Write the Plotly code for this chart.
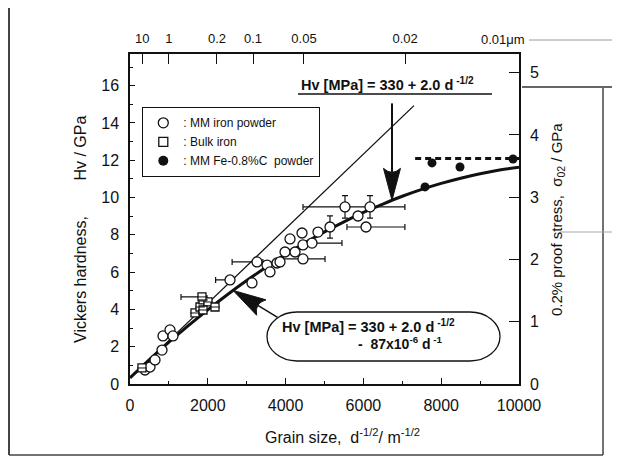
import numpy as np
import plotly.graph_objects as go

# ---------------- data ----------------
# MM iron powder (open circles), x = d^-1/2 [m^-1/2], Hv [GPa]
MM_X = [386, 514, 643, 823, 848, 1028, 1105, 2571, 3136, 3265, 3522, 3779, 3599,
        3856, 3985, 4113, 4242, 4422, 4447, 4447, 4679, 4833, 5141, 5527, 5861,
        6067, 6170]
MM_HV = [0.75, 0.91, 1.29, 1.82, 2.58, 2.90, 2.58, 5.58, 5.42, 6.55, 6.38, 6.49,
         6.01, 6.55, 7.08, 7.78, 7.08, 8.10, 7.46, 6.71, 7.56, 8.15, 8.42, 9.50,
         9.01, 8.42, 9.50]
MM_XERR_PLUS = [0, 0, 0, 0, 0, 0, 0, 100, 0, 150, 0, 0, 0, 0, 0, 0, 0, 0, 0,
                566, 770, 0, 0, 1540, 0, 1000, 0]
MM_XERR_MINUS = [0, 0, 0, 0, 0, 0, 0, 370, 0, 640, 0, 0, 0, 0, 0, 0, 0, 0, 0,
                 590, 300, 0, 0, 1080, 0, 490, 0]
MM_YERR = [0, 0, 0, 0, 0, 0, 0, 0, 0, 0, 0, 0, 0, 0, 0, 0, 0, 0, 0, 0, 0, 0,
           0.6, 0.6, 0, 0, 0.6]

# Bulk iron (squares)
BULK_X = [308, 1671, 1799, 1877, 2005, 2185, 1851, 1877]
BULK_HV = [0.86, 3.81, 4.13, 4.51, 4.40, 4.13, 4.67, 3.97]
BULK_XERR_MINUS = [0, 0, 0, 0, 0, 0, 540, 0]

# MM Fe-0.8%C powder (filled circles)
FEC_X = [7584, 7763, 8483, 9846]
FEC_HV = [10.57, 11.86, 11.64, 12.07]

# Hall-Petch line  Hv[MPa] = 330 + 2.0 d^-1/2
LINE_X = [0, 7300]
LINE_HV = [0.33, 14.93]

# fitted curve  Hv[MPa] = 330 + 2.0 d^-1/2 - 87e-6 d^-1
CURVE_X = [0, 500, 1000, 1500, 2000, 2500, 3000, 3500, 4000, 4500, 5000, 5500,
           6000, 6500, 7000, 7500, 8000, 8500, 9000, 9500, 10000]
CURVE_HV = [0.33, 1.31, 2.24, 3.13, 3.98, 4.79, 5.55, 6.26, 6.94, 7.57, 8.16,
            8.70, 9.20, 9.65, 10.07, 10.44, 10.76, 11.04, 11.28, 11.48, 11.63]

# dashed saturation level
DASH_X = [7330, 10000]
DASH_HV = [12.1, 12.1]

# top axis: grain size d in micrometres
TOP_D_UM = [10, 1, 0.2, 0.1, 0.05, 0.02, 0.01]
TOP_LABELS = ["10", "1", "0.2", "0.1", "0.05", "0.02", "0.01μm"]

X_TICKS = [0, 2000, 4000, 6000, 8000, 10000]
X_LABELS = ["0", "2000", "4000", "6000", "8000", "10000"]
Y_TICKS = [0, 2, 4, 6, 8, 10, 12, 14, 16]
Y2_TICKS = [0, 1, 2, 3, 4, 5]

# ---------------- geometry (screen pixels of the reference) ----------------
W, H = 620, 459
OFF = 8                      # page body margin
PX0, PX1 = 130, 519          # plot area, screen x
PY0, PY1 = 54, 384           # plot area, screen y
PW, PH = PX1 - PX0, PY1 - PY0
FW, FH = W - OFF, H - OFF
ML, MT = PX0 - OFF, PY0 - OFF
MR, MB = FW - (PX1 - OFF), FH - (PY1 - OFF)
X_RANGE = [0, 10000]
Y_RANGE = [0, 17.7]
Y2_RANGE = [0, 5.3]

FONT = "Liberation Sans, Arial, Helvetica, sans-serif"
INK = "#111111"


def px(xp):
    return (xp - PX0) / PW


def py(yp):
    return (PY1 - yp) / PH


def d2px(x, hv):
    return PX0 + (x - X_RANGE[0]) / (X_RANGE[1] - X_RANGE[0]) * PW, \
        PY1 - (hv - Y_RANGE[0]) / (Y_RANGE[1] - Y_RANGE[0]) * PH


top_pos = [1.0 / np.sqrt(d * 1e-6) for d in TOP_D_UM]
# last top label is placed as an annotation (it sits left of its tick)
top_text = TOP_LABELS[:-1] + [""]

fig = go.Figure()

# lines
fig.add_trace(go.Scatter(x=LINE_X, y=LINE_HV, mode="lines",
                         line=dict(color=INK, width=1.3), showlegend=False,
                         hoverinfo="skip"))
fig.add_trace(go.Scatter(x=CURVE_X, y=CURVE_HV, mode="lines", line_shape="spline",
                         line=dict(color=INK, width=3), showlegend=False,
                         hoverinfo="skip"))
fig.add_trace(go.Scatter(x=DASH_X, y=DASH_HV, mode="lines",
                         line=dict(color=INK, width=3, dash="6px,4px"),
                         showlegend=False, hoverinfo="skip"))

# MM iron powder
fig.add_trace(go.Scatter(
    x=MM_X, y=MM_HV, mode="markers", showlegend=False,
    marker=dict(symbol="circle", size=10, color="white",
                line=dict(color=INK, width=1.3)),
    error_x=dict(type="data", symmetric=False, array=MM_XERR_PLUS,
                 arrayminus=MM_XERR_MINUS, color=INK, thickness=1.2, width=3),
    error_y=dict(type="data", array=MM_YERR, color=INK, thickness=1.2, width=3)))

# Bulk iron
fig.add_trace(go.Scatter(
    x=BULK_X, y=BULK_HV, mode="markers", showlegend=False,
    marker=dict(symbol="square", size=8, color="white",
                line=dict(color=INK, width=1.3)),
    error_x=dict(type="data", symmetric=False, array=[0] * len(BULK_X),
                 arrayminus=BULK_XERR_MINUS, color=INK, thickness=1.2, width=3)))
fig.add_trace(go.Scatter(
    x=BULK_X, y=BULK_HV, mode="markers", showlegend=False, hoverinfo="skip",
    marker=dict(symbol="line-ew", size=7, line=dict(color=INK, width=1))))

# Fe-0.8%C
fig.add_trace(go.Scatter(
    x=FEC_X, y=FEC_HV, mode="markers", showlegend=False,
    marker=dict(symbol="circle", size=9, color=INK)))

# legend-only entries
fig.add_trace(go.Scatter(x=[None], y=[None], mode="markers",
                         name=": MM iron powder",
                         marker=dict(symbol="circle", size=10, color="white",
                                     line=dict(color=INK, width=1.3))))
fig.add_trace(go.Scatter(x=[None], y=[None], mode="markers", name=": Bulk iron",
                         marker=dict(symbol="square", size=9, color="white",
                                     line=dict(color=INK, width=1.3))))
fig.add_trace(go.Scatter(x=[None], y=[None], mode="markers",
                         name=": MM Fe-0.8%C  powder",
                         marker=dict(symbol="circle", size=10, color=INK)))

# invisible traces to activate secondary axes
fig.add_trace(go.Scatter(x=[None], y=[None], xaxis="x2", yaxis="y",
                         showlegend=False, hoverinfo="skip"))
fig.add_trace(go.Scatter(x=[None], y=[None], xaxis="x", yaxis="y2",
                         showlegend=False, hoverinfo="skip"))

shapes = []


def pline(x0, y0, x1, y1, color=INK, width=1.5):
    shapes.append(dict(type="line", xref="paper", yref="paper",
                       x0=px(x0), y0=py(y0), x1=px(x1), y1=py(y1),
                       line=dict(color=color, width=width), layer="above"))


def arrow(tip_x, tip_hv, dx, dy, total, head_len, head_w, shaft_w=2):
    tx, ty = d2px(tip_x, tip_hv)
    n = np.hypot(dx, dy)
    ux, uy = dx / n, dy / n          # direction from tip back to tail
    vx, vy = -uy, ux
    bx, by = tx + ux * head_len, ty + uy * head_len
    c1 = (bx + vx * head_w / 2, by + vy * head_w / 2)
    c2 = (bx - vx * head_w / 2, by - vy * head_w / 2)
    m = (tx + ux * head_len * 0.75, ty + uy * head_len * 0.75)
    path = "M{},{} L{},{} Q{},{} {},{} Z".format(
        px(tx), py(ty), px(c1[0]), py(c1[1]), px(m[0]), py(m[1]),
        px(c2[0]), py(c2[1]))
    shapes.append(dict(type="path", xref="paper", yref="paper", path=path,
                       fillcolor=INK, line=dict(color=INK, width=1),
                       layer="above"))
    pline(bx - ux * 4, by - uy * 4, tx + ux * total, ty + uy * total,
          width=shaft_w)


# arrows
arrow(6735, 9.85, 0, -1, 97, 32, 17, shaft_w=2)
arrow(2650, 5.02, 28, 17, 52, 33, 18, shaft_w=1.5)

# underline of upper formula
pline(298, 94, 492, 94, width=1.5)

# rounded box for lower formula
x0, x1, y0, y1 = 267, 500, 312, 361
rx, ry, k = 30, (y1 - y0) / 2, 0.5523
path = "M{},{} L{},{} ".format(px(x0 + rx), py(y0), px(x1 - rx), py(y0))
path += "C{},{} {},{} {},{} ".format(px(x1 - rx + k * rx), py(y0), px(x1),
                                     py(y0 + ry - k * ry), px(x1), py(y0 + ry))
path += "C{},{} {},{} {},{} ".format(px(x1), py(y0 + ry + k * ry),
                                     px(x1 - rx + k * rx), py(y1),
                                     px(x1 - rx), py(y1))
path += "L{},{} ".format(px(x0 + rx), py(y1))
path += "C{},{} {},{} {},{} ".format(px(x0 + rx - k * rx), py(y1), px(x0),
                                     py(y1 - ry + k * ry), px(x0), py(y1 - ry))
path += "C{},{} {},{} {},{} Z".format(px(x0), py(y0 + ry - k * ry),
                                      px(x0 + rx - k * rx), py(y0),
                                      px(x0 + rx), py(y0))
shapes.append(dict(type="path", xref="paper", yref="paper", path=path,
                   line=dict(color=INK, width=1.3), fillcolor="rgba(0,0,0,0)"))

# page frame and stray scan lines
pline(9, 0, 9, 455, color="#444444", width=2)
pline(9, 455, 603, 455, color="#444444", width=1.5)
pline(603, 88, 603, 455, color="#444444", width=1.5)
pline(529, 40, 620, 40, color="#9a9a9a", width=1)
pline(522, 87, 620, 87, color="#333333", width=1.5)
pline(560, 232, 620, 232, color="#a8a8a8", width=1)

annotations = [
    dict(text=TOP_LABELS[-1], x=px(527), y=py(40), xanchor="right",
         yanchor="middle", font=dict(size=13)),
    dict(text="<b>Hv [MPa] = 330 + 2.0 d<sup> -1/2</sup></b>", x=px(299), y=py(84),
         xanchor="left", yanchor="middle", font=dict(size=14.5)),
    dict(text="<b>Hv [MPa] = 330 + 2.0 d<sup> -1/2</sup></b>", x=px(280), y=py(326),
         xanchor="left", yanchor="middle", font=dict(size=14.5)),
    dict(text="<b>-  87x10<sup>-6</sup> d<sup> -1</sup></b>", x=px(356), y=py(343),
         xanchor="left", yanchor="middle", font=dict(size=14)),
    dict(text="Vickers hardness,\u00a0\u00a0\u00a0\u00a0\u00a0\u00a0\u00a0\u00a0Hv / GPa",
         x=px(80), y=py(230), textangle=-90, xanchor="center", yanchor="middle",
         font=dict(size=16)),
    dict(text="0.2% proof stress,\u00a0 σ<sub>02</sub> / GPa",
         x=px(557), y=py(220), textangle=-90, xanchor="center", yanchor="middle",
         font=dict(size=15)),
    dict(text="Grain size,\u00a0 d<sup>-1/2</sup>/ m<sup>-1/2</sup>",
         x=px(342), y=py(436), xanchor="center", yanchor="middle",
         font=dict(size=16)),
]
for a in annotations:
    a.update(xref="paper", yref="paper", showarrow=False)
    a["font"].update(family=FONT, color=INK)

axis_common = dict(showline=True, linecolor=INK, linewidth=1.5, showgrid=False,
                   zeroline=False, ticks="inside", tickcolor=INK)
tick_font = dict(family=FONT, size=16, color=INK)

fig.update_layout(
    width=FW, height=FH, margin=dict(l=ML, r=MR, t=MT, b=MB, autoexpand=False),
    paper_bgcolor="white", plot_bgcolor="white",
    font=dict(family=FONT, color=INK),
    xaxis=dict(range=X_RANGE, tickvals=X_TICKS, ticktext=X_LABELS, ticklen=6,
               tickwidth=1.2,
               minor=dict(dtick=1000, ticks="inside", ticklen=3, tickcolor=INK),
               ticklabelstandoff=6, tickfont=tick_font, **axis_common),
    xaxis2=dict(range=X_RANGE, overlaying="x", side="top", anchor="y",
                tickvals=top_pos, ticktext=top_text, ticklen=10, tickwidth=1.2,
                ticklabelstandoff=4,
                tickfont=dict(family=FONT, size=13, color=INK), **axis_common),
    yaxis=dict(range=Y_RANGE, tickvals=Y_TICKS, ticklen=5, tickwidth=1.2,
               minor=dict(dtick=1, ticks="inside", ticklen=3, tickcolor=INK),
               ticklabelstandoff=6, tickfont=tick_font, **axis_common),
    yaxis2=dict(range=Y2_RANGE, overlaying="y", side="right", anchor="x",
                tickvals=Y2_TICKS, ticklen=10, tickwidth=1.2,
                ticklabelstandoff=6, tickfont=tick_font, **axis_common),
    legend=dict(x=px(142), y=py(107), xanchor="left", yanchor="top",
                bgcolor="white", bordercolor=INK, borderwidth=1.3, itemwidth=30,
                font=dict(family=FONT, size=12, color=INK), tracegroupgap=0),
    shapes=shapes, annotations=annotations, showlegend=True,
)

fig.write_html("out.html")
